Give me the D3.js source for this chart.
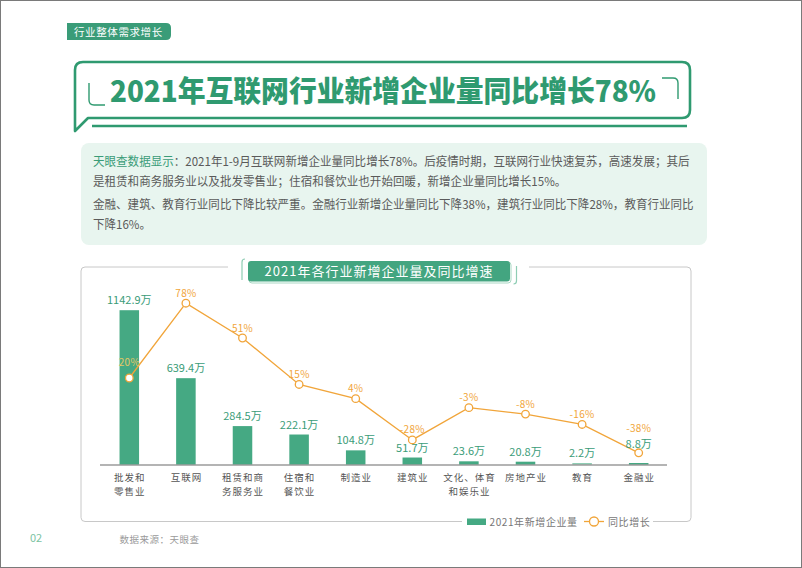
<!DOCTYPE html>
<html>
<head>
<meta charset="utf-8">
<script src="https://cdn.jsdelivr.net/npm/d3@7"></script>
<style>
  html, body { margin: 0; padding: 0; background: #fff; }
  svg { display: block; font-family: "Noto Sans CJK SC", "Noto Sans", sans-serif; }
</style>
</head>
<body>
<svg id="chart" width="802" height="568"></svg>
<script>
// ---------------- data ----------------
const sectionTag = "行业整体需求增长";
const headline = "2021年互联网行业新增企业量同比增长78%";
const introLead = "天眼查数据显示";
const introLines = [
  "：2021年1-9月互联网新增企业量同比增长78%。后疫情时期，互联网行业快速复苏，高速发展；其后",
  "是租赁和商务服务业以及批发零售业；住宿和餐饮业也开始回暖，新增企业量同比增长15%。",
  "金融、建筑、教育行业同比下降比较严重。金融行业新增企业量同比下降38%，建筑行业同比下降28%，教育行业同比",
  "下降16%。"
];
const chartTitle = "2021年各行业新增企业量及同比增速";
const categories = ["批发和零售业", "互联网", "租赁和商务服务业", "住宿和餐饮业", "制造业",
                    "建筑业", "文化、体育和娱乐业", "房地产业", "教育", "金融业"];
const categoryLines = [["批发和", "零售业"], ["互联网"], ["租赁和商", "务服务业"], ["住宿和", "餐饮业"],
                       ["制造业"], ["建筑业"], ["文化、体育", "和娱乐业"], ["房地产业"], ["教育"], ["金融业"]];
const newCompanies = [1142.9, 639.4, 284.5, 222.1, 104.8, 51.7, 23.6, 20.8, 2.2, 8.8]; // 万
const yoyGrowth = [20, 78, 51, 15, 4, -28, -3, -8, -16, -38]; // %
const legendLabels = ["2021年新增企业量", "同比增长"];
const sourceNote = "数据来源：天眼查";
const pageNumber = "02";

// ---------------- style ----------------
const GREEN = "#3a9c78";
const BAR = "#45a983";
const ORANGE = "#f1a53a";
const svg = d3.select("#chart");

// page frame
svg.append("rect").attr("x", 0.5).attr("y", 0.5).attr("width", 801).attr("height", 567)
  .attr("fill", "none").attr("stroke", "#7a7a7a").attr("stroke-width", 1);

// section tag
svg.append("path")
  .attr("d", "M67,23 H166 Q171,23 171,28 V35 Q171,40 166,40 H67 Z")
  .attr("fill", GREEN);
svg.append("text").attr("x", 74).attr("y", 35.5).text(sectionTag)
  .attr("fill", "#fff").attr("font-size", 10.5).attr("letter-spacing", 0.6);

// headline speech box
const hb = svg.append("g").attr("fill", "none").attr("stroke", "#2f9a70");
hb.append("path")
  .attr("d", "M83,62 H682 Q690,62 690,70 V110 Q690,118 682,118 H88 L75,131 V70 Q75,62 83,62 Z")
  .attr("stroke-width", 2.6).attr("stroke-linejoin", "round");
hb.append("line").attr("x1", 92).attr("x2", 687).attr("y1", 126).attr("y2", 126).attr("stroke-width", 2.4);
hb.append("path").attr("d", "M89,83 V100 Q89,105 94,105 H105").attr("stroke-width", 1.4);
hb.append("path").attr("d", "M662,78 H673 Q678,78 678,83 V99").attr("stroke-width", 1.4);
svg.append("text").attr("x", 110).attr("y", 102).text(headline)
  .attr("fill", "#2f9a70").attr("font-size", 29).attr("font-weight", 900)
  .attr("textLength", 546).attr("lengthAdjust", "spacingAndGlyphs");

// intro box
svg.append("rect").attr("x", 81).attr("y", 143).attr("width", 626).attr("height", 102).attr("rx", 8)
  .attr("fill", "#e8f5ef");
const introY = [166.5, 186.5, 209, 229];
const introG = svg.append("g");
introLines.forEach((line, i) => {
  const t = introG.append("text").attr("x", 93).attr("y", introY[i])
    .attr("font-size", 12).attr("fill", "#5a5a5a");
  if (i === 0) t.append("tspan").attr("fill", GREEN).text(introLead);
  t.append("tspan").text(line);
});
// compress horizontally so that the first line fits the box width
const firstW = introG.select("text").node().getComputedTextLength();
const k = 597 / firstW;
introG.selectAll("text").attr("transform", `translate(${93 - 93 * k},0) scale(${k},1)`);

// chart frame
const frame = svg.append("g").attr("fill", "none").attr("stroke", "#c8c8c8").attr("stroke-width", 1);
frame.append("path").attr("d", "M228,267 H85 Q81,267 81,271 V517.5 Q81,521.5 85,521.5 H462");
frame.append("path").attr("d", "M529,267 H687 Q691,267 691,271 V517.5 Q691,521.5 687,521.5 H653");

// chart title
svg.append("rect").attr("x", 249).attr("y", 262).attr("width", 262).attr("height", 21).attr("rx", 3)
  .attr("fill", "none").attr("stroke", "#a9d8c4").attr("stroke-width", 1);
svg.append("rect").attr("x", 248).attr("y", 261).attr("width", 262).attr("height", 20.5).attr("rx", 3)
  .attr("fill", "#43a580");
svg.append("path").attr("d", "M245,259 Q242,259 242,262 V280").attr("fill", "none").attr("stroke", "#8fcdb4").attr("stroke-width", 1.2);
svg.append("path").attr("d", "M516.5,266 V281 Q516.5,284 513.5,284").attr("fill", "none").attr("stroke", "#8fcdb4").attr("stroke-width", 1.2);
svg.append("text").attr("x", 379).attr("y", 275.5).attr("text-anchor", "middle").text(chartTitle)
  .attr("fill", "#fff").attr("font-size", 13).attr("letter-spacing", 1);

// ---------------- scales ----------------
const x = d3.scaleBand().domain(categories).range([101, 667]).paddingInner(0.655).paddingOuter(0.3275);
const yBar = d3.scaleLinear().domain([0, 1200]).range([464.5, 302.5]);
const yLine = d3.scaleLinear().domain([-40, 80]).range([455.4, 300.6]);
const cx = c => x(c) + x.bandwidth() / 2;

// bars
const bars = svg.append("g");
categories.forEach((c, i) => {
  const top = Math.min(yBar(newCompanies[i]), yBar(0) - 1.5);
  bars.append("rect").attr("x", x(c)).attr("y", top).attr("width", x.bandwidth())
    .attr("height", yBar(0) - top).attr("fill", newCompanies[i] < 5 ? "#8fcdb4" : BAR);
});

// baseline axis
const axisG = svg.append("g").attr("transform", `translate(0,${yBar(0)})`)
  .call(d3.axisBottom(x).tickSize(0).tickFormat(""));
axisG.select(".domain").attr("stroke", "#6b6b6b").attr("stroke-width", 1.2)
  .attr("d", "M100,0.5H667");

// category labels
categories.forEach((c, i) => {
  categoryLines[i].forEach((ln, j) => {
    svg.append("text").attr("text-anchor", "middle").attr("font-size", 9.5)
      .attr("fill", "#555").attr("letter-spacing", 1)
      .attr("x", cx(c) + 0.5).attr("y", 481 + j * 13.5).text(ln);
  });
});

// line
const line = d3.line().x((d, i) => cx(categories[i])).y(d => yLine(d));
svg.append("path").datum(yoyGrowth).attr("d", line).attr("fill", "none")
  .attr("stroke", ORANGE).attr("stroke-width", 1.3);
svg.append("g").selectAll("circle").data(yoyGrowth).join("circle")
  .attr("cx", (d, i) => cx(categories[i])).attr("cy", d => yLine(d)).attr("r", 3.8)
  .attr("fill", "#fff").attr("stroke", ORANGE).attr("stroke-width", 1.3);

// labels (bar value and growth)
categories.forEach((c, i) => {
  const top = Math.min(yBar(newCompanies[i]), yBar(0) - 1.5);
  const py = yLine(yoyGrowth[i]);
  let barBase = top - 6;
  let pctBase = py - 6.5;
  const insideBar = py > top + 10;
  if (insideBar) pctBase = py - 12;
  // avoid a point sitting inside the bar-value label
  if (py > barBase - 9 && py < barBase + 1) {
    barBase = py - 5;
    pctBase = barBase - 16;
  }
  svg.append("text").attr("x", cx(c)).attr("y", barBase).attr("text-anchor", "middle")
    .attr("font-size", 11).attr("fill", GREEN).text(newCompanies[i] + "万");
  svg.append("text").attr("x", cx(c)).attr("y", pctBase).attr("text-anchor", "middle")
    .attr("font-size", 10).attr("letter-spacing", 0.3)
    .attr("fill", insideBar ? "#e3c765" : ORANGE).text(yoyGrowth[i] + "%");
});

// legend
const lg = svg.append("g").attr("font-size", 10).attr("fill", "#777");
lg.append("rect").attr("x", 467).attr("y", 518.5).attr("width", 19).attr("height", 6.5).attr("fill", BAR);
lg.append("text").attr("x", 489.5).attr("y", 525.5).attr("letter-spacing", 0.6).text(legendLabels[0]);
lg.append("line").attr("x1", 584).attr("x2", 604).attr("y1", 521.5).attr("y2", 521.5)
  .attr("stroke", ORANGE).attr("stroke-width", 1.3);
lg.append("circle").attr("cx", 594).attr("cy", 521.5).attr("r", 4.5).attr("fill", "#fff")
  .attr("stroke", ORANGE).attr("stroke-width", 1.3);
lg.append("text").attr("x", 608).attr("y", 525.5).attr("letter-spacing", 0.6).text(legendLabels[1]);

// source + page number
svg.append("text").attr("x", 119.5).attr("y", 543).attr("font-size", 9.5).attr("fill", "#9a9a9a")
  .attr("letter-spacing", 0.5).text(sourceNote);
svg.append("text").attr("x", 30).attr("y", 542).attr("font-size", 11).attr("fill", "#7cc3a2").text(pageNumber);
</script>
</body>
</html>
